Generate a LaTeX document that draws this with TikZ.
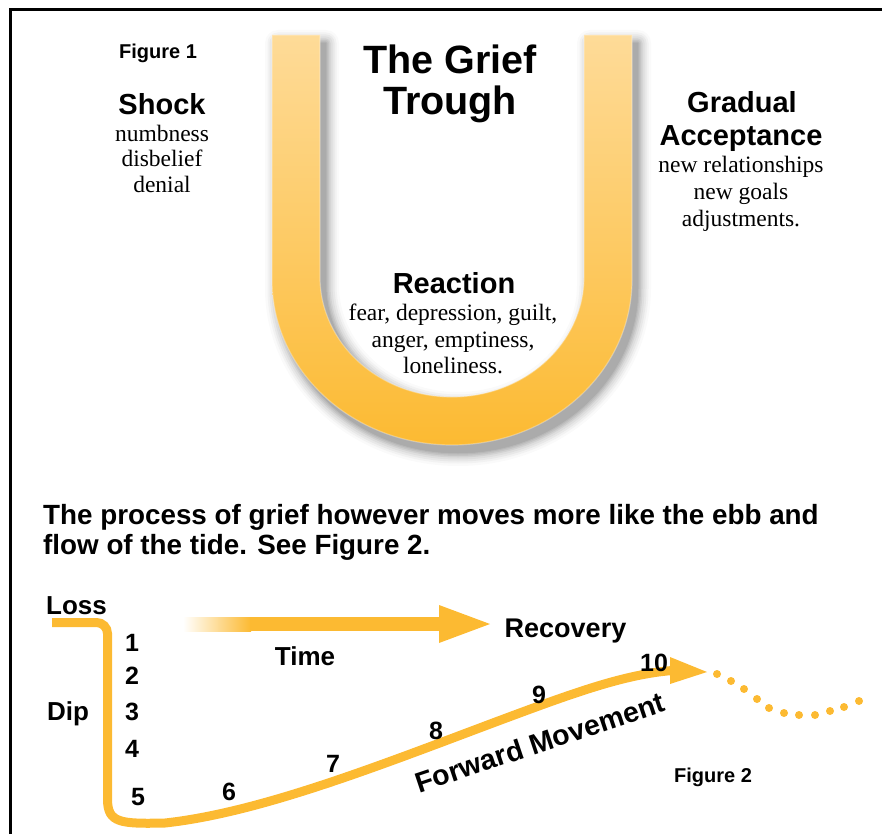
\documentclass[tikz,border=0pt]{standalone}
\usepackage{fontspec}
\setmainfont{Liberation Serif}
\setsansfont{Liberation Sans}
\usetikzlibrary{arrows.meta}

\definecolor{gold}{RGB}{252,186,50}
\definecolor{goldpale}{RGB}{254,219,152}
\newcommand\fsz[1]{\fontsize{#1}{#1}\selectfont}

% outline of the U-shaped trough (one closed band)
\newcommand\troughpath{(272,35) -- (272,280)
  .. controls (272,371) and (352.6,445) .. (452,445)
  .. controls (551.4,445) and (632,371) .. (632,280)
  -- (632,35) -- (584,35) -- (584,277)
  .. controls (584,343.3) and (524.9,397) .. (452,397)
  .. controls (379.1,397) and (320,343.3) .. (320,277)
  -- (320,35) -- cycle}

\begin{document}
\begin{tikzpicture}[x=1pt,y=-1pt,
  figcap/.style={font=\sffamily\bfseries\fsz{20}, inner sep=0, anchor=base},
  stagehead/.style={font=\sffamily\bfseries\fsz{29}, inner sep=0, anchor=base},
  bigtitle/.style={font=\sffamily\bfseries\fsz{39.5}, inner sep=0, anchor=base},
  feelings/.style={font=\rmfamily\fsz{23.5}, inner sep=0, anchor=base},
  prose/.style={font=\sffamily\bfseries\fsz{27.8}, inner sep=0, anchor=base west},
  axislabel/.style={font=\sffamily\bfseries\fsz{26}, inner sep=0, anchor=base},
  stepnum/.style={font=\sffamily\bfseries\fsz{25}, inner sep=0, anchor=base},
  trend/.style={draw=gold, line width=9},
  dot/.style={fill=gold}
]
\useasboundingbox (0,0) rectangle (882,834);

% frame
\draw[line width=3] (10,834) -- (10,9.5) -- (882,9.5);

% ---------- Figure 1: the grief trough ----------
% soft drop shadow, built from nested grey outlines
\begin{scope}[shift={(6,8)}, line join=round]
  \foreach \w/\c in {26/2, 21/5, 17/9, 13/13, 9/18, 6/23, 3/28, 0.5/33}
    \filldraw[fill=black!\c, draw=black!\c, line width=\w pt] \troughpath;
\end{scope}
% the trough band with its pale rim
\shade[top color=goldpale, middle color=gold, bottom color=gold] \troughpath;
\draw[white, opacity=0.3, line width=1.2] \troughpath;

\node[figcap] (fig1) at (158,59) {Figure 1};

\node[stagehead] (shock) at (162,115) {Shock};
\node[feelings] (shockA) at (162,142) {numbness};
\node[feelings] (shockB) at (162,167) {disbelief};
\node[feelings] (shockC) at (162,193) {denial};

\node[bigtitle] (titleA) at (450,74) {The Grief};
\node[bigtitle] (titleB) at (450,115) {Trough};

\node[stagehead] (reaction) at (454,293) {Reaction};
\node[feelings] (reactA) at (453,320) {fear, depression, guilt,};
\node[feelings] (reactB) at (453,347) {anger, emptiness,};
\node[feelings] (reactC) at (453,373) {loneliness.};

\node[stagehead] (gradual) at (742,113) {Gradual};
\node[stagehead] (accept) at (741,146) {Acceptance};
\node[feelings] (acceptA) at (741,173) {new relationships};
\node[feelings] (acceptB) at (741,200) {new goals};
\node[feelings] (acceptC) at (741,226) {adjustments.};

% ---------- text between the figures ----------
\node[prose] (proseA) at (43,524) {The process of grief however moves more like the ebb and};
\node[prose] (proseB) at (43,554) {flow of the tide. See Figure 2.};

% ---------- Figure 2: ebb and flow ----------
% time arrow, fading in from the left
\coordinate (timeFade) at (183,624);
\coordinate (timeFull) at (250,624);
\coordinate (timeHead) at (439,624);
\coordinate (timeTip)  at (490,624);
\shade[left color=white, right color=gold] (183,617) rectangle (251,631);
\fill[gold] (250,617) rectangle (440,631);
\fill[gold] (439,605) -- (timeTip) -- (439,643) -- cycle;

% course of grief
\coordinate (lossStart) at (52,622.5);
\coordinate (dipCorner) at (107.5,622.5);
\coordinate (dipFoot)   at (107.5,788);
\coordinate (troughLow) at (165,823);
\coordinate (midRise)   at (547,703);
\coordinate (crest)     at (680,670);
\coordinate (crestTip)  at (707,672);
\draw[trend] (lossStart) [rounded corners=11] -- (dipCorner) -- (dipFoot) [sharp corners]
  .. controls +(0,35) and +(-45,1) .. (troughLow)
  .. controls +(110,-12) and +(-130,47) .. (midRise)
  .. controls +(53,-19) and +(-40,2) .. (crest);
\fill[gold] (670,657) -- (crestTip) -- (670,684) -- cycle;

% dotted continuation
\foreach \x/\y in {717/674, 731/681, 744/689, 757/699, 769/708, 784/713,
                   799/715, 815/715, 830/711, 844/707, 859/701}
  \fill[dot] (\x,\y) circle (4);

\node[axislabel, anchor=base west] (loss) at (46,614) {Loss};
\node[axislabel, anchor=base west] (dip) at (47,720) {Dip};
\node[axislabel] (time) at (305,665) {Time};
\node[axislabel, font=\sffamily\bfseries\fsz{27}] (recovery) at (565.5,637) {Recovery};
\node[axislabel, font=\sffamily\bfseries\fsz{28.5}, rotate=18.5] (forward) at (543,752) {Forward Movement};

\node[stepnum] (n1) at (132,651) {1};
\node[stepnum] (n2) at (132,684) {2};
\node[stepnum] (n3) at (132,720) {3};
\node[stepnum] (n4) at (132,757) {4};
\node[stepnum] (n5) at (138,805) {5};
\node[stepnum] (n6) at (229,800) {6};
\node[stepnum] (n7) at (333,772) {7};
\node[stepnum] (n8) at (436,739) {8};
\node[stepnum] (n9) at (539,703) {9};
\node[stepnum] (n10) at (654,671) {10};

\node[figcap] (fig2) at (713,782) {Figure 2};
\end{tikzpicture}
\end{document}
